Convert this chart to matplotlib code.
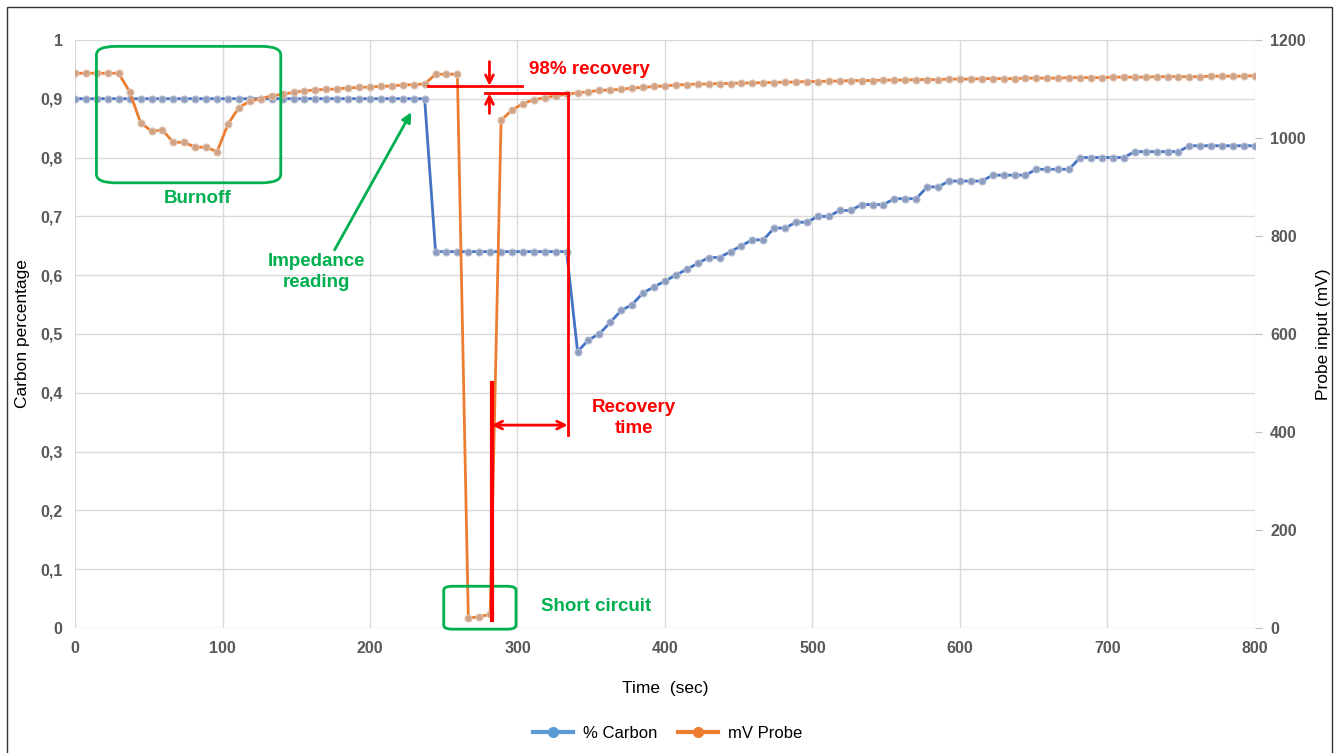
import numpy as np
import matplotlib.pyplot as plt
from matplotlib.patches import FancyBboxPatch, Rectangle
from matplotlib.lines import Line2D

plt.rcParams['font.family'] = ['Liberation Sans', 'DejaVu Sans']

# sample interval of the logger (sec), 109 samples over 0..800 s
dt = 800 / 108

# % Carbon (left axis, fraction)
carbon = [0.90, 0.90, 0.90, 0.90, 0.90, 0.90, 0.90, 0.90, 0.90, 0.90, 0.90,
          0.90, 0.90, 0.90, 0.90, 0.90, 0.90, 0.90, 0.90, 0.90, 0.90, 0.90,
          0.90, 0.90, 0.90, 0.90, 0.90, 0.90, 0.90, 0.90, 0.90, 0.90, 0.90,
          0.64, 0.64, 0.64, 0.64, 0.64, 0.64, 0.64, 0.64, 0.64, 0.64, 0.64, 0.64, 0.64,
          0.47, 0.49, 0.50, 0.52, 0.54, 0.55, 0.57, 0.58, 0.59, 0.60, 0.61, 0.62,
          0.63, 0.63, 0.64, 0.65, 0.66, 0.66, 0.68, 0.68, 0.69, 0.69, 0.70,
          0.70, 0.71, 0.71, 0.72, 0.72, 0.72, 0.73, 0.73, 0.73, 0.75, 0.75,
          0.76, 0.76, 0.76, 0.76, 0.77, 0.77, 0.77, 0.77,
          0.78, 0.78, 0.78, 0.78,
          0.80, 0.80, 0.80, 0.80, 0.80,
          0.81, 0.81, 0.81, 0.81, 0.81,
          0.82, 0.82, 0.82, 0.82, 0.82, 0.82, 0.82]

# mV Probe (right axis)
probe = [1132, 1132, 1132, 1132, 1132, 1094, 1031, 1014, 1016, 991, 991,
         981, 981, 972, 1028, 1062, 1075, 1080, 1086, 1089, 1093, 1096,
         1098, 1099, 1100, 1102, 1103, 1104, 1105, 1106, 1108, 1109, 1110,
         1130, 1130, 1130, 20, 23, 28,
         1036, 1057, 1070, 1078, 1082, 1086, 1089, 1092, 1094, 1097, 1098,
         1099, 1102, 1103, 1105, 1106, 1108,
         1109, 1110, 1110, 1111, 1111, 1112, 1112, 1113, 1113, 1114, 1114,
         1115, 1115, 1116, 1116, 1117, 1117, 1117, 1118, 1118, 1118, 1119,
         1119, 1119, 1120, 1120, 1120, 1121, 1121, 1121, 1121, 1122, 1122,
         1122, 1122, 1123, 1123, 1123, 1123, 1124, 1124, 1124, 1124, 1125,
         1125, 1125, 1125, 1125, 1126, 1126, 1126, 1126, 1127]

time = np.arange(len(carbon)) * dt

left_ticks = [0, 0.1, 0.2, 0.3, 0.4, 0.5, 0.6, 0.7, 0.8, 0.9, 1]
left_labels = ['0', '0,1', '0,2', '0,3', '0,4', '0,5', '0,6', '0,7', '0,8', '0,9', '1']
right_ticks = [0, 200, 400, 600, 800, 1000, 1200]
x_ticks = [0, 100, 200, 300, 400, 500, 600, 700, 800]

blue = '#4472C4'
orange = '#ED7D31'
green = '#00B050'
red = '#FF0000'
tick_col = '#595959'

fig = plt.figure(figsize=(13.35, 7.53), dpi=100)
ax = fig.add_axes([0.0562, 0.166, 0.8838, 0.781])
ax2 = ax.twinx()

ax.plot(time, carbon, color=blue, lw=2, marker='o', ms=5,
        mfc='#8c9cc0', mec='#b3bdd2', mew=0.8, zorder=3)
ax2.plot(time, probe, color=orange, lw=2, marker='o', ms=5,
         mfc='#d2a284', mec='#dcc2b0', mew=0.8, zorder=3)

ax.set_xlim(0, 800)
ax.set_ylim(0, 1)
ax2.set_ylim(0, 1200)
ax.set_xticks(x_ticks)
ax.set_yticks(left_ticks)
ax.set_yticklabels(left_labels)
ax2.set_yticks(right_ticks)
ax.grid(True, color='#d9d9d9', lw=1)
ax.set_axisbelow(True)
for a in (ax, ax2):
    for s in a.spines.values():
        s.set_visible(False)
ax.tick_params(axis='both', length=0, labelsize=11.5, labelcolor=tick_col)
ax.tick_params(axis='y', pad=9)
ax.tick_params(axis='x', pad=9)
ax2.tick_params(axis='y', length=5, color='#bfbfbf', labelsize=11.5,
                labelcolor=tick_col, pad=6)
for lab in ax.get_xticklabels() + ax.get_yticklabels() + ax2.get_yticklabels():
    lab.set_fontweight('bold')

ax.set_xlabel('Time  (sec)', fontsize=12.5, labelpad=18)
ax.set_ylabel('Carbon percentage', fontsize=12.5, labelpad=7)
ax2.set_ylabel('Probe input (mV)', fontsize=12.5, labelpad=7)

tr = ax.transData

# Burnoff box
ax2.add_patch(FancyBboxPatch((14.5, 0.757), 125, 0.232, transform=tr,
                             boxstyle='round,pad=0,rounding_size=13',
                             mutation_aspect=1 / 800 * 0.9,
                             fill=False, ec=green, lw=2, zorder=5))
ax2.text(83, 0.731, 'Burnoff', transform=tr, color=green, fontsize=13.5,
         fontweight='bold', ha='center', va='center')

# Impedance reading
ax2.annotate('', xy=(228, 0.877), xytext=(176, 0.643),
             xycoords=tr, textcoords=tr,
             arrowprops=dict(arrowstyle='-|>', color=green, lw=2,
                             mutation_scale=14, shrinkA=0, shrinkB=0))
ax2.text(164, 0.605, 'Impedance\nreading', transform=tr, color=green,
         fontsize=13.5, fontweight='bold', ha='center', va='center',
         linespacing=1.35)

# Short circuit box
ax2.add_patch(FancyBboxPatch((250, -0.002), 49, 0.073, transform=tr,
                             boxstyle='round,pad=0,rounding_size=6',
                             mutation_aspect=1 / 800 * 0.9,
                             fill=False, ec=green, lw=2, zorder=5,
                             clip_on=False))
ax2.text(353, 0.036, 'Short circuit', transform=tr, color=green,
         fontsize=13.5, fontweight='bold', ha='center', va='center')

# 98% recovery markers
ax2.plot([239, 303], [0.922, 0.922], transform=tr, color=red, lw=2, zorder=6)
ax2.plot([278, 334], [0.909, 0.909], transform=tr, color=red, lw=2, zorder=6)
ax2.plot([334, 334], [0.909, 0.328], transform=tr, color=red, lw=2, zorder=6)
ax2.annotate('', xy=(281, 0.922), xytext=(281, 0.963),
             xycoords=tr, textcoords=tr,
             arrowprops=dict(arrowstyle='->', color=red, lw=2,
                             mutation_scale=14, shrinkA=0, shrinkB=0))
ax2.annotate('', xy=(281, 0.909), xytext=(281, 0.875),
             xycoords=tr, textcoords=tr,
             arrowprops=dict(arrowstyle='->', color=red, lw=2,
                             mutation_scale=14, shrinkA=0, shrinkB=0))
ax2.text(308, 0.950, '98% recovery', transform=tr, color=red, fontsize=13.5,
         fontweight='bold', ha='left', va='center')

# recovery time
ax2.plot([282.5, 282.5], [0.417, 0.013], transform=tr, color=red, lw=3, zorder=6)
ax2.annotate('', xy=(282.5, 0.345), xytext=(334, 0.345),
             xycoords=tr, textcoords=tr,
             arrowprops=dict(arrowstyle='<->', color=red, lw=2,
                             mutation_scale=14, shrinkA=0, shrinkB=0))
ax2.text(379, 0.357, 'Recovery\ntime', transform=tr, color=red, fontsize=13.5,
         fontweight='bold', ha='center', va='center', linespacing=1.35)

# legend
handles = [Line2D([], [], color='#5B9BD5', lw=3, marker='o', ms=7),
           Line2D([], [], color=orange, lw=3, marker='o', ms=7)]
fig.legend(handles, ['% Carbon', 'mV Probe'], loc='center',
           bbox_to_anchor=(0.5, 0.026), ncol=2, frameon=False, fontsize=12,
           handlelength=2.4, columnspacing=1.2, handletextpad=0.6)

# frame round the chart
fig.patches.append(Rectangle((0.0052, -0.02), 0.9925, 1.011, transform=fig.transFigure,
                             fill=False, ec='#333333', lw=1))

fig.savefig('out.png', dpi=100)
